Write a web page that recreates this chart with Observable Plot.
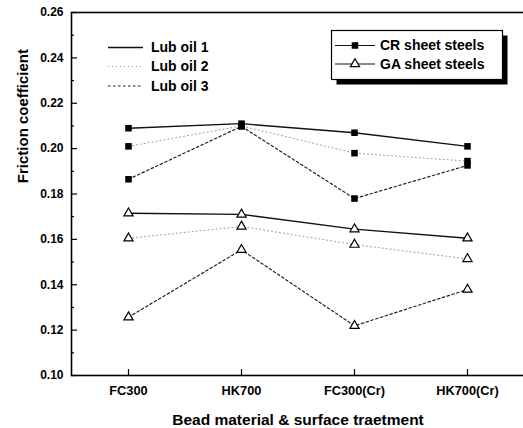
<!DOCTYPE html>
<html><head><meta charset="utf-8">
<script src="https://cdn.jsdelivr.net/npm/d3@7"></script>
<script src="https://cdn.jsdelivr.net/npm/@observablehq/plot@0.6"></script>
<style>
html,body{margin:0;padding:0;background:#fff;overflow:hidden;}
#chart{width:523px;height:428px;}
</style></head><body><div id="chart"></div>
<script>
// ---- data ----
const categories = ["FC300", "HK700", "FC300(Cr)", "HK700(Cr)"];
const lubOils = ["Lub oil 1", "Lub oil 2", "Lub oil 3"];
const steels = ["CR sheet steels", "GA sheet steels"];
const crLub1 = [0.209, 0.211, 0.207, 0.201];
const crLub2 = [0.201, 0.210, 0.198, 0.1945];
const crLub3 = [0.1865, 0.2098, 0.178, 0.1926];
const gaLub1 = [0.1715, 0.171, 0.1645, 0.1605];
const gaLub2 = [0.1605, 0.1657, 0.1577, 0.1514];
const gaLub3 = [0.1257, 0.1554, 0.1219, 0.1379];
const yTicks = [0.10, 0.12, 0.14, 0.16, 0.18, 0.20, 0.22, 0.24, 0.26];
const yMinorTicks = [0.11, 0.13, 0.15, 0.17, 0.19, 0.21, 0.23, 0.25];
const xTitle = "Bead material & surface traetment";
const yTitle = "Friction coefficient";

const series = [
  {steel: steels[0], lub: lubOils[0], values: crLub1},
  {steel: steels[0], lub: lubOils[1], values: crLub2},
  {steel: steels[0], lub: lubOils[2], values: crLub3},
  {steel: steels[1], lub: lubOils[0], values: gaLub1},
  {steel: steels[1], lub: lubOils[1], values: gaLub2},
  {steel: steels[1], lub: lubOils[2], values: gaLub3}
];
const rows = series.flatMap(s => s.values.map((v, i) => ({material: categories[i], steel: s.steel, lub: s.lub, value: v})));

// ---- styles ----
const lubStyle = {
  "Lub oil 1": {stroke: "#111", strokeWidth: 1.4, strokeDasharray: null},
  "Lub oil 2": {stroke: "#9a9a9a", strokeWidth: 1, strokeDasharray: "1,3"},
  "Lub oil 3": {stroke: "#222", strokeWidth: 1.2, strokeDasharray: "2.5,2.5"}
};
const sqR = 3.7, triR = 3.4;

const W = 523, H = 428, mL = 71, mR = -1, mT = 12, mB = 53;
const plotW = W - mL - mR, plotH = H - mT - mB;

function legendMark() {
  const g = d3.create("svg:g")
    .attr("font-family", "'Liberation Sans', Arial, sans-serif")
    .attr("font-weight", "bold").attr("font-size", 14)
    .attr("text-anchor", "start");
  // line-style legend
  const ly = [47.5, 66.5, 86];
  lubOils.forEach((l, i) => {
    const st = lubStyle[l];
    g.append("line").attr("x1", 108).attr("x2", 143).attr("y1", ly[i]).attr("y2", ly[i])
      .attr("stroke", st.stroke).attr("stroke-width", st.strokeWidth)
      .attr("stroke-dasharray", st.strokeDasharray);
    g.append("text").attr("x", 151).attr("y", ly[i]).attr("dy", "0.35em").attr("fill", "#000").text(l);
  });
  // symbol legend box with drop shadow
  g.append("rect").attr("x", 336.5).attr("y", 35.5).attr("width", 171).attr("height", 49).attr("fill", "#000").attr("stroke", "none");
  g.append("rect").attr("x", 331.5).attr("y", 30.5).attr("width", 171).attr("height", 49).attr("fill", "#fff").attr("stroke", "#000").attr("stroke-width", 1.2);
  const sy = [45.5, 64];
  steels.forEach((s, i) => {
    g.append("line").attr("x1", 335).attr("x2", 375).attr("y1", sy[i]).attr("y2", sy[i]).attr("stroke", "#111").attr("stroke-width", 1.2);
    const sym = i === 0 ? d3.symbol(d3.symbolSquare, sqR * sqR * Math.PI) : d3.symbol(d3.symbolTriangle, triR * triR * Math.PI);
    g.append("path").attr("d", sym()).attr("transform", `translate(355,${sy[i]})`)
      .attr("fill", i === 0 ? "#000" : "#fff").attr("stroke", i === 0 ? "none" : "#000").attr("stroke-width", 1.2);
    g.append("text").attr("x", 380).attr("y", sy[i]).attr("dy", "0.35em").attr("fill", "#000").text(s);
  });
  return g.node();
}

const marks = [
  Plot.frame({stroke: "#000", strokeWidth: 1.6}),
  Plot.tickY(yTicks, {y: d => d, insetRight: plotW - 6, stroke: "#000", strokeWidth: 1.2}),
  Plot.tickY(yMinorTicks, {y: d => d, insetRight: plotW - 3, stroke: "#000", strokeWidth: 1.2}),
  Plot.tickX(categories, {x: d => d, insetTop: plotH - 6, stroke: "#000", strokeWidth: 1.2}),
  Plot.axisY(yTicks, {tickSize: 0, tickPadding: 8, tickFormat: d => d.toFixed(2), fontSize: 12, fontWeight: "bold", label: null}),
  Plot.axisX({tickSize: 0, tickPadding: 10, fontSize: 12.8, fontWeight: "bold", label: null}),
  ...lubOils.map(l => Plot.line(rows.filter(r => r.lub === l), {x: "material", y: "value", z: "steel", ...lubStyle[l]})),
  Plot.dot(rows.filter(r => r.steel === steels[0]), {x: "material", y: "value", symbol: "square", r: sqR, fill: "#000"}),
  Plot.dot(rows.filter(r => r.steel === steels[1]), {x: "material", y: "value", symbol: "triangle", r: triR, fill: "#fff", stroke: "#000", strokeWidth: 1.2}),
  Plot.text([xTitle], {frameAnchor: "bottom", dy: 44.5, lineAnchor: "middle", fontSize: 15.5, fontWeight: "bold", fill: "#000"}),
  Plot.text([yTitle], {frameAnchor: "left", dx: -48.5, dy: -10.8, rotate: -90, lineAnchor: "middle", fontSize: 15, fontWeight: "bold", fill: "#000"}),
  legendMark
];

const chart = Plot.plot({
  width: W, height: H,
  marginLeft: mL, marginRight: mR, marginTop: mT, marginBottom: mB,
  style: {fontFamily: "'Liberation Sans', Arial, sans-serif", background: "#fff", color: "#000", overflow: "hidden"},
  x: {type: "point", domain: categories, padding: 0.5, axis: null},
  y: {domain: [0.10, 0.26], axis: null},
  marks
});
document.getElementById("chart").appendChild(chart);
</script>
</body></html>
